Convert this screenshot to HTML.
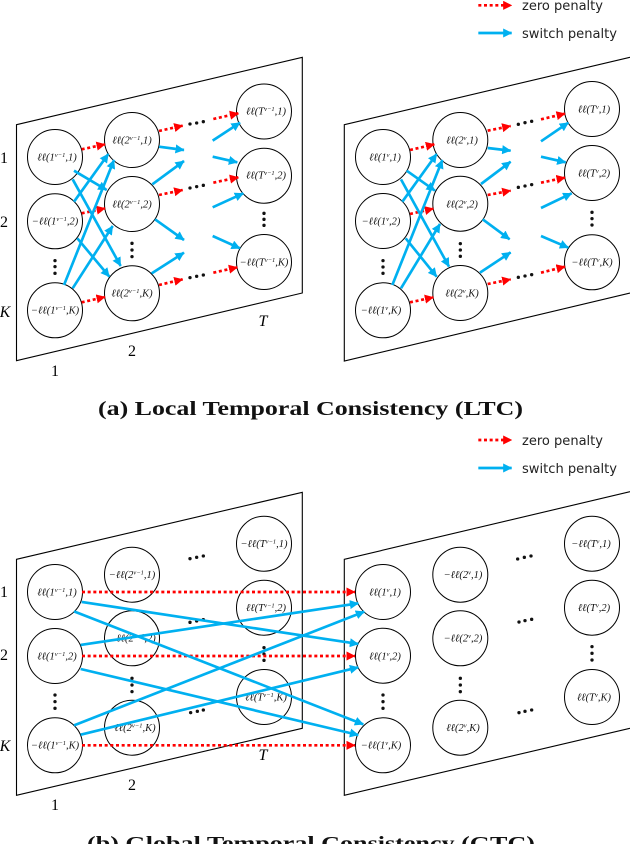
<!DOCTYPE html>
<html><head><meta charset="utf-8"><style>
html,body{margin:0;padding:0;background:#fff;width:630px;height:844px;overflow:hidden}
svg{display:block}
.p{fill:none;stroke:#000;stroke-width:1.1}
.c{fill:#fff;stroke:#000;stroke-width:1}
.n{font:italic 10.5px "Liberation Serif","DejaVu Serif",serif;text-anchor:middle;fill:#111}
.n tspan.s{font-size:6.5px}
.r{stroke:#f00;stroke-width:8;stroke-dasharray:9 8;fill:none;marker-end:url(#mr)}
.b{stroke:#00b0f0;stroke-width:8;fill:none;marker-end:url(#mb)}
.l{font:16px "Liberation Serif",serif;text-anchor:middle;fill:#000}
.i{font-style:italic}
.cap{font:bold 19.5px "Liberation Serif",serif;fill:#111}
.lg{font:13px "DejaVu Sans",sans-serif;fill:#222}
</style></head><body>
<svg width="630" height="844" viewBox="0 0 630 844" xmlns="http://www.w3.org/2000/svg">
<defs>
<marker id="mr" viewBox="0 0 8 8" refX="7.5" refY="4" markerWidth="3.4" markerHeight="3.4" orient="auto"><path d="M0 0L8 4L0 8Z" fill="#f00"/></marker>
<marker id="mb" viewBox="0 0 8 8" refX="7.5" refY="4" markerWidth="3.4" markerHeight="3.4" orient="auto"><path d="M0 0L8 4L0 8Z" fill="#00b0f0"/></marker>
</defs>

<!-- panels -->
<polygon class="p" points="16.5,124.7 302.3,57.3 302.3,293 16.5,360.7"/>
<polyline class="p" points="630,57.3 344.3,124.7 344.3,361 630,293"/>
<polygon class="p" points="16.5,559.3 302.3,492.3 302.3,728.3 16.5,795.3"/>
<polyline class="p" points="630,491.7 344.3,559.3 344.3,795.3 630,728.3"/>

<!-- circles -->
<g>
<circle class="c" cx="55" cy="157" r="27.5"/><circle class="c" cx="55" cy="221.3" r="27.5"/><circle class="c" cx="55" cy="310.3" r="27.5"/>
<circle class="c" cx="132" cy="140" r="27.5"/><circle class="c" cx="132" cy="204" r="27.5"/><circle class="c" cx="132" cy="293.3" r="27.5"/>
<circle class="c" cx="264" cy="111.5" r="27.5"/><circle class="c" cx="264" cy="175.7" r="27.5"/><circle class="c" cx="264" cy="262" r="27.5"/>
<circle class="c" cx="383" cy="157" r="27.5"/><circle class="c" cx="383" cy="221" r="27.5"/><circle class="c" cx="383" cy="310.3" r="27.5"/>
<circle class="c" cx="460.3" cy="140" r="27.5"/><circle class="c" cx="460.3" cy="203.7" r="27.5"/><circle class="c" cx="460.3" cy="293" r="27.5"/>
<circle class="c" cx="592" cy="109" r="27.5"/><circle class="c" cx="592" cy="173" r="27.5"/><circle class="c" cx="592" cy="262.3" r="27.5"/>
<circle class="c" cx="55" cy="592" r="27.5"/><circle class="c" cx="55" cy="656" r="27.5"/><circle class="c" cx="55" cy="745.3" r="27.5"/>
<circle class="c" cx="132" cy="574.7" r="27.5"/><circle class="c" cx="132" cy="638.3" r="27.5"/><circle class="c" cx="132" cy="727.7" r="27.5"/>
<circle class="c" cx="264" cy="543.7" r="27.5"/><circle class="c" cx="264" cy="607.7" r="27.5"/><circle class="c" cx="264" cy="697" r="27.5"/>
<circle class="c" cx="383" cy="592" r="27.5"/><circle class="c" cx="383" cy="655.7" r="27.5"/><circle class="c" cx="383" cy="745.3" r="27.5"/>
<circle class="c" cx="460.3" cy="574.7" r="27.5"/><circle class="c" cx="460.3" cy="638.3" r="27.5"/><circle class="c" cx="460.3" cy="727.7" r="27.5"/>
<circle class="c" cx="592" cy="543.7" r="27.5"/><circle class="c" cx="592" cy="607.7" r="27.5"/><circle class="c" cx="592" cy="697" r="27.5"/>
</g>

<!-- node labels -->
<g class="nl">
<text class="n" x="57" y="160.5">ℓℓ(1<tspan class="s" dy="-3.5">v−1</tspan><tspan dy="3.5">,1)</tspan></text>
<text class="n" x="55" y="224.5">−ℓℓ(1<tspan class="s" dy="-3.5">v−1</tspan><tspan dy="3.5">,2)</tspan></text>
<text class="n" x="55" y="313.5">−ℓℓ(1<tspan class="s" dy="-3.5">v−1</tspan><tspan dy="3.5">,K)</tspan></text>
<text class="n" x="132" y="143.5">ℓℓ(2<tspan class="s" dy="-3.5">v−1</tspan><tspan dy="3.5">,1)</tspan></text>
<text class="n" x="132" y="207.5">ℓℓ(2<tspan class="s" dy="-3.5">v−1</tspan><tspan dy="3.5">,2)</tspan></text>
<text class="n" x="132" y="296.5">ℓℓ(2<tspan class="s" dy="-3.5">v−1</tspan><tspan dy="3.5">,K)</tspan></text>
<text class="n" x="266" y="114.5">ℓℓ(T<tspan class="s" dy="-3.5">v−1</tspan><tspan dy="3.5">,1)</tspan></text>
<text class="n" x="266" y="178.5">ℓℓ(T<tspan class="s" dy="-3.5">v−1</tspan><tspan dy="3.5">,2)</tspan></text>
<text class="n" x="264" y="265.5">−ℓℓ(T<tspan class="s" dy="-3.5">v−1</tspan><tspan dy="3.5">,K)</tspan></text>

<text class="n" x="385" y="160.5">ℓℓ(1<tspan class="s" dy="-3.5">v</tspan><tspan dy="3.5">,1)</tspan></text>
<text class="n" x="381" y="224.5">−ℓℓ(1<tspan class="s" dy="-3.5">v</tspan><tspan dy="3.5">,2)</tspan></text>
<text class="n" x="381" y="313.5">−ℓℓ(1<tspan class="s" dy="-3.5">v</tspan><tspan dy="3.5">,K)</tspan></text>
<text class="n" x="462" y="143.5">ℓℓ(2<tspan class="s" dy="-3.5">v</tspan><tspan dy="3.5">,1)</tspan></text>
<text class="n" x="462" y="207.5">ℓℓ(2<tspan class="s" dy="-3.5">v</tspan><tspan dy="3.5">,2)</tspan></text>
<text class="n" x="462" y="296.5">ℓℓ(2<tspan class="s" dy="-3.5">v</tspan><tspan dy="3.5">,K)</tspan></text>
<text class="n" x="594" y="112.5">ℓℓ(T<tspan class="s" dy="-3.5">v</tspan><tspan dy="3.5">,1)</tspan></text>
<text class="n" x="594" y="176.5">ℓℓ(T<tspan class="s" dy="-3.5">v</tspan><tspan dy="3.5">,2)</tspan></text>
<text class="n" x="592" y="265.5">−ℓℓ(T<tspan class="s" dy="-3.5">v</tspan><tspan dy="3.5">,K)</tspan></text>

<text class="n" x="57" y="595.5">ℓℓ(1<tspan class="s" dy="-3.5">v−1</tspan><tspan dy="3.5">,1)</tspan></text>
<text class="n" x="57" y="659.5">ℓℓ(1<tspan class="s" dy="-3.5">v−1</tspan><tspan dy="3.5">,2)</tspan></text>
<text class="n" x="55" y="748.5">−ℓℓ(1<tspan class="s" dy="-3.5">v−1</tspan><tspan dy="3.5">,K)</tspan></text>
<text class="n" x="132" y="578">−ℓℓ(2<tspan class="s" dy="-3.5">v−1</tspan><tspan dy="3.5">,1)</tspan></text>
<text class="n" x="136" y="641.5">ℓℓ(2<tspan class="s" dy="-3.5">v−1</tspan><tspan dy="3.5">,2)</tspan></text>
<text class="n" x="135" y="731">ℓℓ(2<tspan class="s" dy="-3.5">v−1</tspan><tspan dy="3.5">,K)</tspan></text>
<text class="n" x="264" y="547">−ℓℓ(T<tspan class="s" dy="-3.5">v−1</tspan><tspan dy="3.5">,1)</tspan></text>
<text class="n" x="266" y="611">ℓℓ(T<tspan class="s" dy="-3.5">v−1</tspan><tspan dy="3.5">,2)</tspan></text>
<text class="n" x="266" y="700.5">ℓℓ(T<tspan class="s" dy="-3.5">v−1</tspan><tspan dy="3.5">,K)</tspan></text>

<text class="n" x="385" y="595.5">ℓℓ(1<tspan class="s" dy="-3.5">v</tspan><tspan dy="3.5">,1)</tspan></text>
<text class="n" x="385" y="659.5">ℓℓ(1<tspan class="s" dy="-3.5">v</tspan><tspan dy="3.5">,2)</tspan></text>
<text class="n" x="381" y="748.5">−ℓℓ(1<tspan class="s" dy="-3.5">v</tspan><tspan dy="3.5">,K)</tspan></text>
<text class="n" x="463" y="578">−ℓℓ(2<tspan class="s" dy="-3.5">v</tspan><tspan dy="3.5">,1)</tspan></text>
<text class="n" x="463" y="641.5">−ℓℓ(2<tspan class="s" dy="-3.5">v</tspan><tspan dy="3.5">,2)</tspan></text>
<text class="n" x="463" y="731">ℓℓ(2<tspan class="s" dy="-3.5">v</tspan><tspan dy="3.5">,K)</tspan></text>
<text class="n" x="591" y="547">−ℓℓ(T<tspan class="s" dy="-3.5">v</tspan><tspan dy="3.5">,1)</tspan></text>
<text class="n" x="594" y="611">ℓℓ(T<tspan class="s" dy="-3.5">v</tspan><tspan dy="3.5">,2)</tspan></text>
<text class="n" x="594" y="700.5">ℓℓ(T<tspan class="s" dy="-3.5">v</tspan><tspan dy="3.5">,K)</tspan></text>
</g>

<!-- Panel A left connectors (zoom coords) -->
<g transform="translate(0,50) scale(.33333)">
<path class="r" d="M245 298L315 283"/><path class="r" d="M477 243L548 227"/><path class="r" d="M640 207L715 190"/>
<path class="r" d="M245 490L315 475"/><path class="r" d="M477 435L548 420"/><path class="r" d="M640 398L715 382"/>
<path class="r" d="M245 757L315 741"/><path class="r" d="M477 705L548 688"/><path class="r" d="M640 668L712 652"/>
<path class="b" d="M222 362L320 420"/><path class="b" d="M218 388L362 648"/><path class="b" d="M222 455L325 312"/>
<path class="b" d="M232 565L328 680"/><path class="b" d="M192 705L342 330"/><path class="b" d="M218 715L338 528"/>
<path class="b" d="M477 290L552 300"/><path class="b" d="M457 403L552 333"/><path class="b" d="M465 508L552 570"/><path class="b" d="M455 670L552 608"/>
<path class="b" d="M638 272L720 218"/><path class="b" d="M638 320L712 337"/><path class="b" d="M638 472L730 430"/><path class="b" d="M638 558L720 595"/>
<g fill="#111">
<circle cx="570" cy="222" r="5"/><circle cx="590" cy="219" r="5"/><circle cx="610" cy="215" r="5"/>
<circle cx="570" cy="414" r="5"/><circle cx="590" cy="410" r="5"/><circle cx="610" cy="406" r="5"/>
<circle cx="570" cy="683" r="5"/><circle cx="590" cy="679" r="5"/><circle cx="610" cy="675" r="5"/>
<circle cx="165" cy="632" r="5"/><circle cx="165" cy="650" r="5"/><circle cx="165" cy="670" r="5"/>
<circle cx="396" cy="580" r="5"/><circle cx="396" cy="600" r="5"/><circle cx="396" cy="620" r="5"/>
<circle cx="792" cy="490" r="5"/><circle cx="792" cy="508" r="5"/><circle cx="792" cy="526" r="5"/>
</g>
</g>

<!-- Panel A right connectors -->
<g transform="translate(315,0) scale(.33333)">
<path class="r" d="M285 450L358 433"/><path class="r" d="M518 392L587 378"/><path class="r" d="M678 358L750 341"/>
<path class="r" d="M285 642L355 626"/><path class="r" d="M518 585L587 572"/><path class="r" d="M678 548L750 533"/>
<path class="r" d="M285 907L355 892"/><path class="r" d="M518 852L587 838"/><path class="r" d="M678 818L750 800"/>
<path class="b" d="M275 512L360 572"/><path class="b" d="M258 538L402 800"/><path class="b" d="M262 605L365 462"/>
<path class="b" d="M272 715L365 830"/><path class="b" d="M232 855L382 480"/><path class="b" d="M258 865L375 672"/>
<path class="b" d="M518 444L587 452"/><path class="b" d="M498 552L587 485"/><path class="b" d="M503 658L584 718"/><path class="b" d="M495 818L587 757"/>
<path class="b" d="M678 424L760 368"/><path class="b" d="M678 470L752 487"/><path class="b" d="M678 624L770 580"/><path class="b" d="M678 708L760 743"/>
<g fill="#111">
<circle cx="610" cy="373" r="5"/><circle cx="630" cy="368" r="5"/><circle cx="650" cy="364" r="5"/>
<circle cx="610" cy="562" r="5"/><circle cx="630" cy="558" r="5"/><circle cx="650" cy="554" r="5"/>
<circle cx="610" cy="832" r="5"/><circle cx="630" cy="828" r="5"/><circle cx="650" cy="824" r="5"/>
<circle cx="204" cy="782" r="5"/><circle cx="204" cy="801" r="5"/><circle cx="204" cy="820" r="5"/>
<circle cx="436" cy="731" r="5"/><circle cx="436" cy="750" r="5"/><circle cx="436" cy="769" r="5"/>
<circle cx="831" cy="637" r="5"/><circle cx="831" cy="656" r="5"/><circle cx="831" cy="675" r="5"/>
</g>
<path class="r" d="M490 16L590 16"/><path class="b" d="M490 99L590 99"/>
</g>

<!-- Panel B dots -->
<g transform="translate(0,480) scale(.33333)" fill="#111">
<circle cx="570" cy="236" r="5"/><circle cx="590" cy="232" r="5"/><circle cx="610" cy="228" r="5"/>
<circle cx="570" cy="427" r="5"/><circle cx="590" cy="423" r="5"/><circle cx="610" cy="419" r="5"/>
<circle cx="572" cy="698" r="5"/><circle cx="592" cy="694" r="5"/><circle cx="610" cy="690" r="5"/>
<circle cx="165" cy="645" r="5"/><circle cx="165" cy="665" r="5"/><circle cx="165" cy="685" r="5"/>
<circle cx="396" cy="595" r="5"/><circle cx="396" cy="615" r="5"/><circle cx="396" cy="635" r="5"/>
<circle cx="792" cy="503" r="5"/><circle cx="792" cy="522" r="5"/><circle cx="792" cy="541" r="5"/>
</g>
<g transform="translate(315,425) scale(.33333)" fill="#111">
<circle cx="608" cy="402" r="5"/><circle cx="628" cy="397" r="5"/><circle cx="648" cy="393" r="5"/>
<circle cx="612" cy="591" r="5"/><circle cx="630" cy="587" r="5"/><circle cx="650" cy="583" r="5"/>
<circle cx="612" cy="863" r="5"/><circle cx="630" cy="859" r="5"/><circle cx="650" cy="855" r="5"/>
<circle cx="204" cy="810" r="5"/><circle cx="204" cy="830" r="5"/><circle cx="204" cy="850" r="5"/>
<circle cx="436" cy="760" r="5"/><circle cx="436" cy="780" r="5"/><circle cx="436" cy="800" r="5"/>
<circle cx="831" cy="665" r="5"/><circle cx="831" cy="685" r="5"/><circle cx="831" cy="705" r="5"/>
</g>

<!-- Panel B connectors -->
<g transform="scale(.33333)">
<path class="r" d="M246 1776L1065 1776"/><path class="r" d="M246 1968L1065 1968"/><path class="r" d="M246 2236L1065 2236"/>
<path class="b" d="M245 1806L1075 1932"/>
<path class="b" d="M222 1834L1090 2173"/>
<path class="b" d="M242 1935L1075 1810"/>
<path class="b" d="M242 2007L1075 2205"/>
<path class="b" d="M222 2176L1093 1835"/>
<path class="b" d="M242 2204L1075 2002"/>
<path class="r" d="M1435 1320L1535 1320"/>
<path class="b" d="M1435 1404L1535 1404"/>
</g>

<!-- outer labels -->
<text class="l" x="4" y="163">1</text><text class="l" x="4" y="227">2</text><text class="l i" x="5" y="317">K</text>
<text class="l" x="55" y="376">1</text><text class="l" x="132" y="356">2</text><text class="l i" x="263" y="326">T</text>
<text class="l" x="4" y="597">1</text><text class="l" x="4" y="660">2</text><text class="l i" x="5" y="751">K</text>
<text class="l" x="55" y="810">1</text><text class="l" x="132" y="790">2</text><text class="l i" x="263" y="760">T</text>

<!-- legends -->
<text class="lg" x="522" y="10" textLength="81" lengthAdjust="spacingAndGlyphs">zero penalty</text>
<text class="lg" x="522" y="38" textLength="95" lengthAdjust="spacingAndGlyphs">switch penalty</text>
<text class="lg" x="522" y="445" textLength="81" lengthAdjust="spacingAndGlyphs">zero penalty</text>
<text class="lg" x="522" y="473" textLength="95" lengthAdjust="spacingAndGlyphs">switch penalty</text>

<!-- captions -->
<text class="cap" x="98" y="415" textLength="425" lengthAdjust="spacingAndGlyphs">(a) Local Temporal Consistency (LTC)</text>
<text class="cap" x="87" y="850" textLength="448" lengthAdjust="spacingAndGlyphs">(b) Global Temporal Consistency (GTC)</text>
</svg>
</body></html>
